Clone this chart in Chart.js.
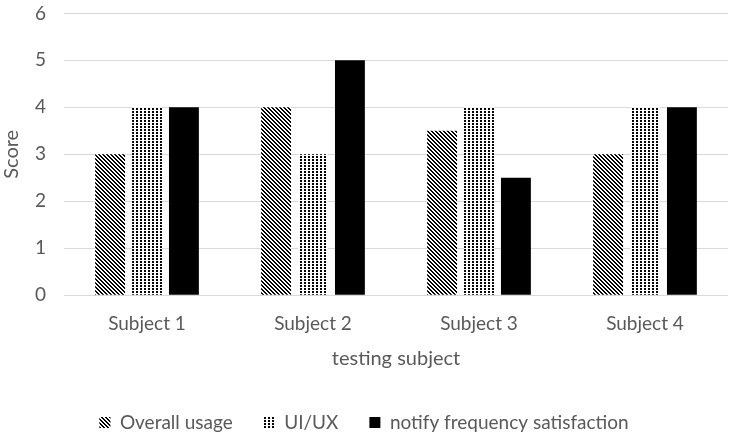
<!DOCTYPE html>
<html>
<head>
<meta charset="utf-8">
<script src="https://cdn.jsdelivr.net/npm/chart.js@4"></script>
<style>
  body { margin: 0; background: #fff; }
  #chart { display: block; }
</style>
</head>
<body>
<canvas id="chart" width="735" height="436"></canvas>
<script>
const subjects = ["Subject 1", "Subject 2", "Subject 3", "Subject 4"];
const overallUsage = [3, 4, 3.5, 3];
const uiUx = [4, 3, 4, 4];
const notifySatisfaction = [4, 5, 2.5, 4];
const yTicks = [0, 1, 2, 3, 4, 5, 6];

const textColor = "#595959";
const fontFamily = "Lato, 'Noto Sans', sans-serif";

// diagonal stripes "\\\"
function stripePattern() {
  const c = document.createElement("canvas");
  c.width = 4;
  c.height = 4;
  const g = c.getContext("2d");
  g.fillStyle = "#fff";
  g.fillRect(0, 0, 4, 4);
  g.fillStyle = "#000";
  for (let y = 0; y < 4; y++) {
    g.fillRect(y % 4, y, 1, 1);
    g.fillRect((y + 1) % 4, y, 1, 1);
  }
  return g.createPattern(c, "repeat");
}

// small dot grid
function dotPattern() {
  const c = document.createElement("canvas");
  c.width = 4;
  c.height = 3;
  const g = c.getContext("2d");
  g.fillStyle = "#fff";
  g.fillRect(0, 0, 4, 3);
  g.fillStyle = "#000";
  g.fillRect(0, 0, 2, 2);
  return g.createPattern(c, "repeat");
}

new Chart(document.getElementById("chart"), {
  type: "bar",
  data: {
    labels: subjects,
    datasets: [
      {
        label: "Overall usage",
        data: overallUsage,
        backgroundColor: stripePattern(),
        borderWidth: 0,
      },
      {
        label: "UI/UX",
        data: uiUx,
        backgroundColor: dotPattern(),
        borderWidth: 0,
      },
      {
        label: "notify frequency satisfaction",
        data: notifySatisfaction,
        backgroundColor: "#000000",
        borderWidth: 0,
      },
    ],
  },
  options: {
    responsive: false,
    animation: false,
    categoryPercentage: 0.667,
    barPercentage: 0.81,
    layout: { padding: { top: -1, right: 7, bottom: -6, left: 0 } },
    plugins: {
      tooltip: { enabled: false },
      legend: {
        position: "bottom",
        labels: {
          color: textColor,
          font: { family: fontFamily, size: 19 },
          boxWidth: 11,
          boxHeight: 11,
          padding: 31,
        },
      },
    },
    scales: {
      x: {
        grid: { display: false },
        border: { display: false },
        ticks: {
          color: textColor,
          font: { family: fontFamily, size: 19 },
          padding: 9,
        },
        title: {
          display: true,
          text: "testing subject",
          color: textColor,
          font: { family: fontFamily, size: 20 },
          padding: { top: 3, bottom: 11 },
        },
      },
      y: {
        min: 0,
        max: 6,
        afterBuildTicks(axis) {
          axis.ticks = yTicks.map((v) => ({ value: v }));
        },
        grid: {
          color: "#d9d9d9",
          lineWidth: 1,
          drawTicks: true,
          tickLength: 16,
          tickColor: "rgba(0,0,0,0)",
        },
        border: { display: false },
        ticks: {
          color: textColor,
          font: { family: fontFamily, size: 19 },
          padding: 2,
        },
        title: {
          display: true,
          text: "Score",
          color: textColor,
          font: { family: fontFamily, size: 20 },
          padding: { top: 0, bottom: 9 },
        },
      },
    },
  },
});
</script>
</body>
</html>
